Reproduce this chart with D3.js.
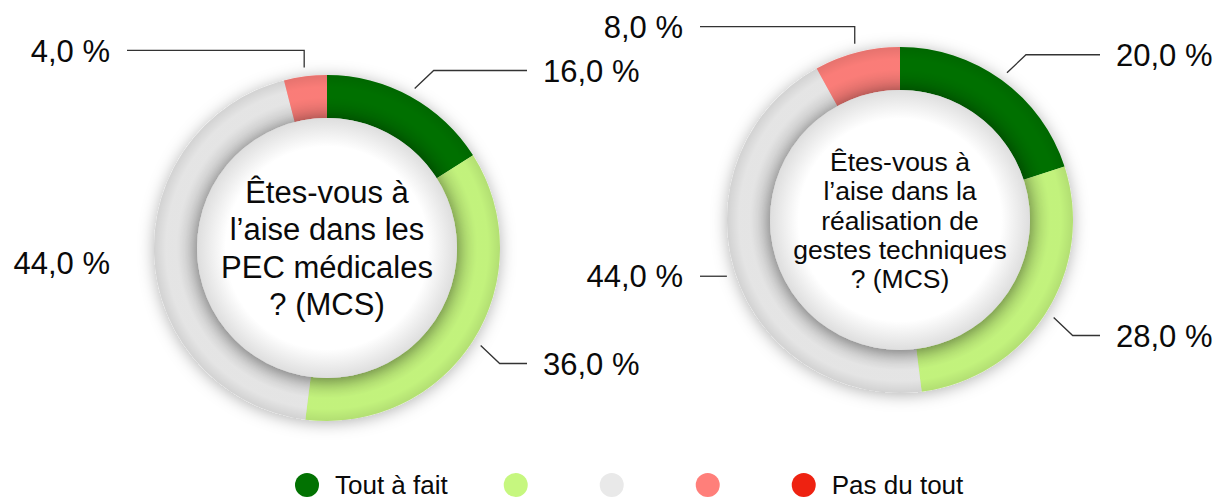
<!DOCTYPE html>
<html lang="fr">
<head>
<meta charset="UTF-8"/>
<title>Donuts MCS</title>
<script src="https://d3js.org/d3.v7.min.js"></script>
<style>
    body { margin: 0; background: #fff; }
    text { font-family: "Liberation Sans", Arial, Helvetica, sans-serif; fill: #0a0a0a; }
</style>
</head>
<body>
<script>
    // answer categories (only first and last are named in the legend)
    var categories = ["Tout à fait", "Plutôt oui", "Neutre", "Plutôt non", "Pas du tout"];
    var legendLabels = ["Tout à fait", "", "", "", "Pas du tout"];
    var colors = ["#027202", "#c6f77f", "#e9e9e9", "#ff7f7a", "#ee2211"];

    // percentages per question
    var valuesPEC = [16, 36, 44, 4, 0];
    var valuesGestes = [20, 28, 44, 8, 0];

    var titlePEC = ["Êtes-vous à", "l’aise dans les", "PEC médicales", "? (MCS)"];
    var titleGestes = ["Êtes-vous à", "l’aise dans la", "réalisation de", "gestes techniques", "? (MCS)"];

    var w = 1227, h = 499;
    var rOuter = 173, rInner = 130;

    var svg = d3.select("body").append("svg")
        .attr("width", w)
        .attr("height", h);

    var defs = svg.append("defs");

    var f1 = defs.append("filter").attr("id", "ringShadow")
        .attr("x", "-30%").attr("y", "-30%").attr("width", "160%").attr("height", "160%");
    f1.append("feDropShadow").attr("dx", 0).attr("dy", 2)
        .attr("stdDeviation", 8).attr("flood-color", "#000").attr("flood-opacity", 0.3);

    var f2 = defs.append("filter").attr("id", "diskShadow")
        .attr("x", "-30%").attr("y", "-30%").attr("width", "160%").attr("height", "160%");
    f2.append("feDropShadow").attr("dx", 0).attr("dy", 2)
        .attr("stdDeviation", 8).attr("flood-color", "#000").attr("flood-opacity", 0.4);

    // disk: white centre, slight grey rim
    var g1 = defs.append("radialGradient").attr("id", "diskFill");
    g1.append("stop").attr("offset", "78%").attr("stop-color", "#ffffff");
    g1.append("stop").attr("offset", "100%").attr("stop-color", "#dedede");

    // ring shading, darker toward the edges
    var g2 = defs.append("radialGradient").attr("id", "ringShade")
        .attr("gradientUnits", "userSpaceOnUse").attr("cx", 0).attr("cy", 0).attr("r", rOuter);
    g2.append("stop").attr("offset", rInner / rOuter).attr("stop-color", "#000").attr("stop-opacity", 0.14);
    g2.append("stop").attr("offset", 0.87).attr("stop-color", "#000").attr("stop-opacity", 0.02);
    g2.append("stop").attr("offset", 0.93).attr("stop-color", "#000").attr("stop-opacity", 0.02);
    g2.append("stop").attr("offset", 1).attr("stop-color", "#000").attr("stop-opacity", 0.1);

    var pie = d3.pie().sort(null).value(function (d) { return d; });
    var arc = d3.arc().innerRadius(rInner).outerRadius(rOuter);
    var fmt = function (v) { return d3.format(".1f")(v).replace(".", ",") + " %"; };
    var labelSize = 31;

    function donut(values, title, cx, cy, titleSize, titleGap) {
        var g = svg.append("g").attr("transform", "translate(" + cx + "," + cy + ")");
        var arcs = pie(values);

        var ring = g.append("g").attr("filter", "url(#ringShadow)");
        ring.selectAll("path")
            .data(arcs)
            .enter()
            .append("path")
            .attr("d", arc)
            .attr("fill", function (d, i) { return colors[i]; });

        g.append("path")
            .attr("d", d3.arc().innerRadius(rInner).outerRadius(rOuter)({ startAngle: 0, endAngle: 2 * Math.PI }))
            .attr("fill", "url(#ringShade)");

        g.append("circle")
            .attr("r", rInner)
            .attr("fill", "url(#diskFill)")
            .attr("filter", "url(#diskShadow)");

        // centre question
        g.selectAll("text.title")
            .data(title)
            .enter()
            .append("text")
            .attr("class", "title")
            .attr("text-anchor", "middle")
            .attr("font-size", titleSize + "px")
            .attr("y", function (d, i) {
                return (i - (title.length - 1) / 2) * titleGap + 0.36 * titleSize;
            })
            .text(function (d) { return d; });

        // leader lines and labels
        arcs.forEach(function (d) {
            if (d.data <= 0) return;
            var a = (d.startAngle + d.endAngle) / 2;
            var sx = 182 * Math.sin(a), sy = -182 * Math.cos(a);
            var right = Math.sin(a) >= 0;
            var endX = right ? 200 : -200;
            var pts;
            if (Math.abs(Math.cos(a)) < 0.07) {
                pts = null; // almost horizontal, no leader
            } else if (Math.abs(Math.sin(a)) < 0.3) {
                var ty = sy - 17;
                pts = [[sx, sy], [sx, ty], [endX, ty]];
            } else if (Math.abs(sx) > 165) {
                pts = [[sx, sy], [endX, sy]];
            } else {
                var ex = sx + (right ? 19 : -19);
                var ey = sy + (Math.cos(a) > 0 ? -18 : 18);
                pts = [[sx, sy], [ex, ey], [endX, ey]];
            }
            var ly = pts ? pts[pts.length - 1][1] : sy + 3;
            if (pts) {
                g.append("path")
                    .attr("d", d3.line()(pts))
                    .attr("fill", "none")
                    .attr("stroke", "#333")
                    .attr("stroke-width", 1.3);
            }
            g.append("text")
                .attr("x", right ? 216 : -217)
                .attr("y", ly + 0.36 * labelSize)
                .attr("text-anchor", right ? "start" : "end")
                .attr("font-size", labelSize + "px")
                .text(fmt(d.data));
        });
    }

    donut(valuesPEC, titlePEC, 327, 248, 31, 37.5);
    donut(valuesGestes, titleGestes, 900, 220, 26.5, 29.2);

    // legend
    var legend = svg.append("g");
    var lx = 295;
    legendLabels.forEach(function (label, i) {
        legend.append("circle")
            .attr("cx", lx + 12)
            .attr("cy", 485)
            .attr("r", 12)
            .attr("fill", colors[i]);
        var t = legend.append("text")
            .attr("x", lx + 40)
            .attr("y", 494)
            .attr("font-size", "26px")
            .text(label);
        var tw = label ? t.node().getComputedTextLength() : 0;
        lx += 24 + 16 + tw + 56;
    });
</script>
</body>
</html>
